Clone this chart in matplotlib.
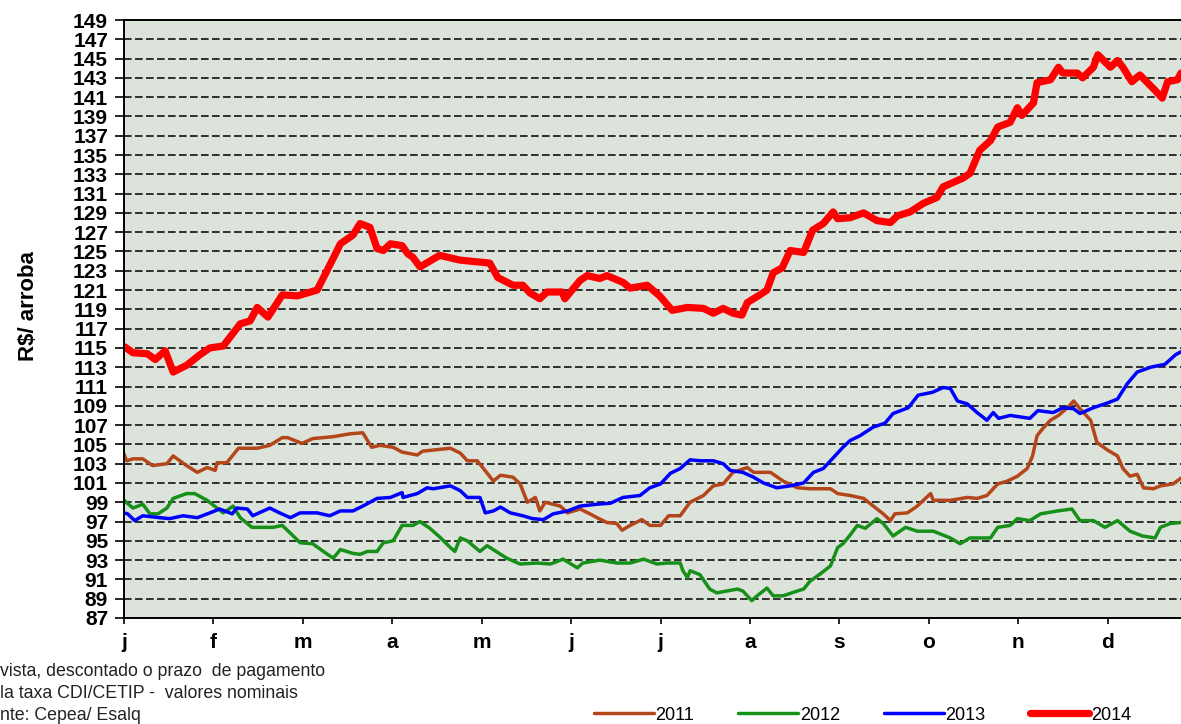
# -*- coding:utf-8 -*-

import numpy as np
import matplotlib
matplotlib.use('Agg')
import matplotlib.pyplot as plt

# meses (iniciais) e faixa do eixo y
meses = ['j', 'f', 'm', 'a', 'm', 'j', 'j', 'a', 's', 'o', 'n', 'd']
y_min, y_max, y_passo = 87, 149, 2
x_fim = 11.82  # o grafico termina antes do fim de dezembro

# series: [posicao em meses, R$/arroba]
s2011 = np.array([
	[0.00, 104.0], [0.03, 103.3], [0.10, 103.5], [0.21, 103.5], [0.32, 102.8],
	[0.48, 103.0], [0.55, 103.8], [0.70, 102.8], [0.82, 102.1], [0.93, 102.6],
	[1.02, 102.3], [1.04, 103.1], [1.15, 103.1], [1.28, 104.6], [1.49, 104.6],
	[1.63, 104.9], [1.77, 105.7], [1.83, 105.7], [1.99, 105.1], [2.11, 105.6],
	[2.34, 105.8], [2.53, 106.1], [2.67, 106.2], [2.77, 104.7], [2.86, 104.9],
	[3.01, 104.7], [3.11, 104.2], [3.28, 103.9], [3.34, 104.3], [3.65, 104.6],
	[3.76, 104.1], [3.84, 103.3], [3.95, 103.3], [4.02, 102.5], [4.13, 101.2],
	[4.21, 101.8], [4.35, 101.6], [4.43, 100.9], [4.51, 99.0], [4.60, 99.5],
	[4.65, 98.1], [4.71, 99.0], [4.88, 98.6], [4.96, 97.9], [5.10, 98.3],
	[5.21, 97.8], [5.29, 97.4], [5.40, 96.9], [5.51, 96.8], [5.57, 96.1],
	[5.66, 96.6], [5.79, 97.2], [5.88, 96.6], [6.00, 96.6], [6.09, 97.6],
	[6.22, 97.6], [6.33, 99.0], [6.48, 99.7], [6.59, 100.7], [6.70, 100.9],
	[6.81, 102.1], [6.97, 102.6], [7.04, 102.1], [7.23, 102.1], [7.37, 101.2],
	[7.53, 100.5], [7.67, 100.4], [7.90, 100.4], [7.98, 99.9], [8.12, 99.7],
	[8.27, 99.4], [8.38, 98.6], [8.49, 97.8], [8.57, 97.1], [8.62, 97.8],
	[8.76, 97.9], [8.87, 98.6], [9.02, 99.9], [9.05, 99.2], [9.24, 99.2],
	[9.43, 99.5], [9.54, 99.4], [9.65, 99.7], [9.77, 100.9], [9.88, 101.2],
	[9.99, 101.7], [10.10, 102.5], [10.16, 103.8], [10.21, 105.9], [10.27, 106.6],
	[10.36, 107.5], [10.45, 108.0], [10.55, 108.8], [10.62, 109.5], [10.69, 108.7],
	[10.81, 107.5], [10.88, 105.2], [11.00, 104.4], [11.11, 103.8], [11.17, 102.5],
	[11.25, 101.7], [11.33, 101.9], [11.40, 100.5], [11.51, 100.4], [11.59, 100.7],
	[11.73, 100.9], [11.82, 101.5]])

s2012 = np.array([
	[0.00, 99.2], [0.10, 98.4], [0.21, 98.8], [0.29, 97.8], [0.38, 97.8],
	[0.48, 98.4], [0.55, 99.4], [0.70, 99.9], [0.79, 99.9], [0.93, 99.2],
	[1.04, 98.4], [1.11, 97.9], [1.22, 98.6], [1.30, 97.4], [1.43, 96.4],
	[1.55, 96.4], [1.67, 96.4], [1.77, 96.6], [1.86, 95.8], [1.97, 94.8],
	[2.11, 94.7], [2.23, 93.9], [2.34, 93.2], [2.42, 94.1], [2.56, 93.7],
	[2.64, 93.6], [2.72, 93.9], [2.83, 93.9], [2.90, 94.8], [3.01, 95.0],
	[3.11, 96.6], [3.23, 96.6], [3.31, 97.0], [3.42, 96.3], [3.53, 95.4],
	[3.65, 94.3], [3.70, 93.9], [3.76, 95.3], [3.84, 95.0], [3.98, 93.9],
	[4.06, 94.5], [4.28, 93.2], [4.43, 92.6], [4.62, 92.7], [4.77, 92.6],
	[4.91, 93.1], [5.07, 92.2], [5.13, 92.7], [5.32, 93.0], [5.51, 92.7],
	[5.66, 92.7], [5.81, 93.1], [5.96, 92.6], [6.07, 92.7], [6.22, 92.7],
	[6.25, 91.9], [6.30, 91.2], [6.33, 91.9], [6.44, 91.5], [6.55, 90.0],
	[6.63, 89.6], [6.74, 89.8], [6.86, 90.0], [6.92, 89.8], [7.02, 88.8],
	[7.08, 89.3], [7.19, 90.1], [7.26, 89.3], [7.37, 89.3], [7.53, 89.8],
	[7.60, 90.0], [7.67, 90.8], [7.79, 91.6], [7.90, 92.4], [7.98, 94.3],
	[8.04, 94.7], [8.12, 95.6], [8.20, 96.6], [8.29, 96.3], [8.42, 97.3],
	[8.49, 96.8], [8.60, 95.5], [8.74, 96.4], [8.87, 96.0], [9.05, 96.0],
	[9.24, 95.3], [9.35, 94.7], [9.46, 95.3], [9.69, 95.3], [9.77, 96.4],
	[9.91, 96.6], [9.99, 97.3], [10.13, 97.1], [10.25, 97.8], [10.44, 98.1],
	[10.60, 98.3], [10.69, 97.1], [10.84, 97.1], [10.97, 96.4], [11.11, 97.1],
	[11.25, 96.0], [11.39, 95.5], [11.53, 95.3], [11.59, 96.4], [11.70, 96.8],
	[11.82, 96.9]])

s2013 = np.array([
	[0.00, 97.9], [0.04, 97.8], [0.12, 97.1], [0.21, 97.6], [0.40, 97.4],
	[0.51, 97.3], [0.66, 97.6], [0.82, 97.4], [0.96, 97.9], [1.07, 98.3],
	[1.21, 97.8], [1.26, 98.4], [1.38, 98.3], [1.44, 97.6], [1.63, 98.4],
	[1.74, 97.9], [1.86, 97.4], [1.97, 97.9], [2.16, 97.9], [2.30, 97.6],
	[2.42, 98.1], [2.56, 98.1], [2.67, 98.6], [2.83, 99.4], [2.98, 99.5],
	[3.11, 100.0], [3.12, 99.5], [3.28, 99.9], [3.39, 100.5], [3.46, 100.4],
	[3.65, 100.7], [3.76, 100.2], [3.84, 99.5], [3.98, 99.5], [4.04, 97.9],
	[4.13, 98.1], [4.21, 98.5], [4.32, 97.9], [4.46, 97.6], [4.57, 97.3],
	[4.69, 97.2], [4.80, 97.8], [4.96, 98.1], [5.10, 98.6], [5.29, 98.8],
	[5.44, 98.9], [5.58, 99.5], [5.77, 99.7], [5.88, 100.5], [6.00, 100.9],
	[6.11, 102.0], [6.22, 102.5], [6.33, 103.4], [6.44, 103.3], [6.59, 103.3],
	[6.70, 103.0], [6.78, 102.3], [6.92, 102.1], [7.04, 101.6], [7.15, 101.0],
	[7.30, 100.5], [7.45, 100.7], [7.60, 101.0], [7.71, 102.1], [7.82, 102.5],
	[7.93, 103.6], [8.04, 104.7], [8.12, 105.4], [8.23, 105.9], [8.38, 106.8],
	[8.51, 107.2], [8.60, 108.2], [8.77, 108.8], [8.88, 110.1], [9.04, 110.4],
	[9.16, 110.9], [9.24, 110.8], [9.32, 109.5], [9.43, 109.2], [9.54, 108.3],
	[9.65, 107.5], [9.72, 108.3], [9.78, 107.7], [9.91, 108.0], [10.13, 107.7],
	[10.22, 108.5], [10.39, 108.3], [10.50, 108.8], [10.62, 108.7], [10.69, 108.2],
	[10.84, 108.8], [11.00, 109.3], [11.11, 109.7], [11.22, 111.3], [11.33, 112.5],
	[11.48, 113.0], [11.64, 113.3], [11.76, 114.3], [11.82, 114.6]])

s2014 = np.array([
	[0.01, 115.1], [0.10, 114.5], [0.26, 114.4], [0.35, 113.8], [0.46, 114.7],
	[0.55, 112.5], [0.70, 113.2], [0.85, 114.3], [0.96, 115.0], [1.11, 115.2],
	[1.30, 117.5], [1.41, 117.8], [1.49, 119.2], [1.61, 118.2], [1.77, 120.5],
	[1.94, 120.4], [2.16, 121.0], [2.34, 124.3], [2.42, 125.8], [2.56, 126.7],
	[2.64, 127.9], [2.75, 127.5], [2.83, 125.3], [2.90, 125.1], [2.98, 125.8],
	[3.11, 125.6], [3.17, 124.8], [3.23, 124.4], [3.31, 123.4], [3.53, 124.6],
	[3.76, 124.1], [4.09, 123.8], [4.18, 122.3], [4.35, 121.5], [4.46, 121.5],
	[4.54, 120.7], [4.65, 120.1], [4.73, 120.8], [4.90, 120.8], [4.93, 120.1],
	[5.10, 122.0], [5.18, 122.5], [5.32, 122.2], [5.40, 122.5], [5.58, 121.8],
	[5.66, 121.2], [5.85, 121.5], [5.99, 120.4], [6.13, 118.9], [6.30, 119.2],
	[6.48, 119.1], [6.59, 118.6], [6.70, 119.1], [6.81, 118.6], [6.91, 118.4],
	[6.97, 119.7], [7.11, 120.5], [7.19, 121.0], [7.26, 122.8], [7.36, 123.3],
	[7.45, 125.1], [7.60, 124.9], [7.70, 127.2], [7.82, 127.9], [7.93, 129.1],
	[7.98, 128.4], [8.12, 128.5], [8.27, 129.0], [8.42, 128.2], [8.57, 128.0],
	[8.65, 128.7], [8.79, 129.1], [8.94, 130.0], [9.09, 130.6], [9.16, 131.7],
	[9.38, 132.6], [9.46, 133.1], [9.57, 135.5], [9.69, 136.5], [9.77, 137.9],
	[9.91, 138.4], [9.99, 139.9], [10.04, 139.1], [10.17, 140.4], [10.21, 142.5],
	[10.36, 142.8], [10.45, 144.1], [10.50, 143.5], [10.66, 143.5], [10.72, 143.0],
	[10.84, 144.1], [10.89, 145.4], [11.03, 144.1], [11.11, 144.8], [11.17, 144.1],
	[11.27, 142.6], [11.36, 143.3], [11.51, 141.9], [11.61, 140.9], [11.67, 142.6],
	[11.78, 142.8], [11.82, 143.5]])

anos = ['2011', '2012', '2013', '2014']
cores = ['#b4461c', '#17901a', '#0000ff', '#ff0000']
espessuras = [2.5, 2.5, 2.5, 5.2]

notas = ['vista, descontado o prazo  de pagamento',
		 'la taxa CDI/CETIP -  valores nominais',
		 'nte: Cepea/ Esalq']


def main():
	plt.rcParams['font.family'] = ['Liberation Sans', 'DejaVu Sans']
	fig = plt.figure(figsize=(11.81, 7.24), dpi=100)
	W, H = 1181.0, 724.0
	# area do grafico (em pixels da imagem de referencia)
	ax = fig.add_axes([124 / W, 1 - 618 / H, 1 - 124 / W, (618 - 20) / H])
	ax.set_facecolor('#dce3da')

	series = [s2011, s2012, s2013, s2014]
	for s, ano, cor, lw in zip(series, anos, cores, espessuras):
		ax.plot(s[:, 0], s[:, 1], color=cor, linewidth=lw, label=ano,
				solid_joinstyle='round', solid_capstyle='round')

	ax.set_xlim(0, x_fim)
	ax.set_ylim(y_min, y_max)
	ax.set_xticks(np.arange(len(meses)))
	ax.set_xticklabels(meses, fontsize=15, fontweight='bold')
	yt = np.arange(y_min, y_max + 1, y_passo)
	ax.set_yticks(yt)
	ax.set_yticklabels([str(v) for v in yt], fontsize=15, fontweight='bold')
	ax.tick_params(axis='y', direction='out', length=6.5, width=1.2, pad=5)
	ax.tick_params(axis='x', direction='out', length=4.5, width=1.2, pad=6)

	# linhas de grade tracejadas
	ax.yaxis.grid(True, linestyle=(0, (5, 2.2)), linewidth=1.1, color='black')
	ax.set_axisbelow(True)
	for lado in ['left', 'bottom', 'top']:
		ax.spines[lado].set_linewidth(1.4)
	ax.spines['right'].set_visible(False)

	fig.text(28 / W, 1 - 306 / H, 'R$/ arroba', rotation=90, fontsize=16,
			 fontweight='bold', ha='center', va='center')

	# notas no canto inferior esquerdo
	for i, nota in enumerate(notas):
		fig.text(0, 1 - (672 + 21.5 * i) / H, nota, fontsize=12.8,
				 ha='left', va='center', color='#222222')

	fig.legend(loc='center left', bbox_to_anchor=(594 / W, 1 - 715 / H),
			   ncol=4, frameon=False, fontsize=13, handlelength=3.3,
			   handletextpad=0.1, columnspacing=2.45, borderpad=0,
			   borderaxespad=0)

	fig.savefig('out.png', dpi=100)


if __name__ == "__main__":
	main()
